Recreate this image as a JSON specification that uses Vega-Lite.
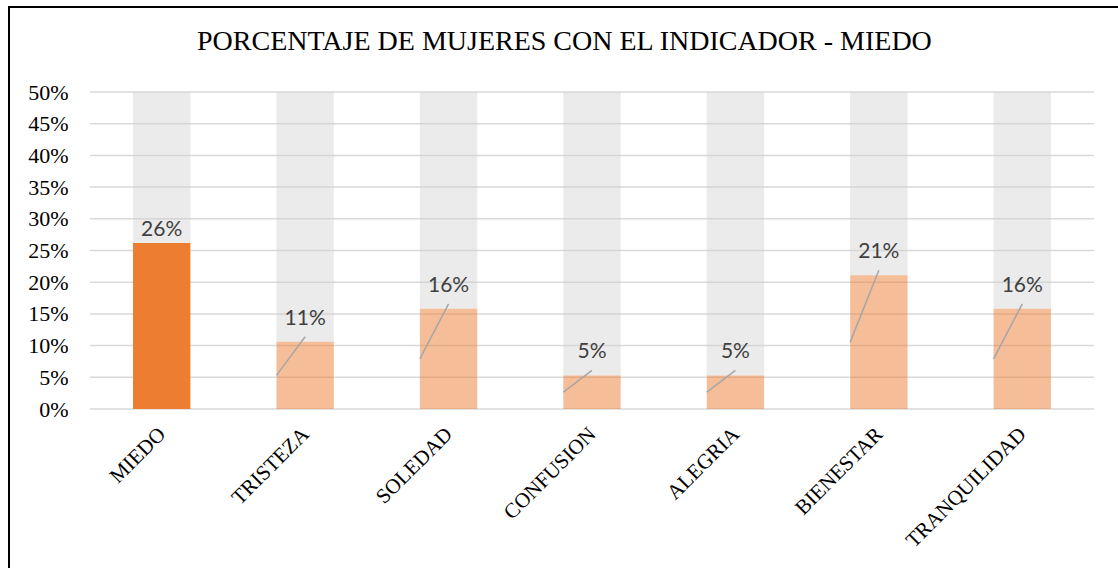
{
  "$schema": "https://vega.github.io/schema/vega-lite/v6.json",
  "width": 1125,
  "height": 563,
  "autosize": {"type": "none"},
  "padding": {"left": 9, "top": 7, "right": 0, "bottom": 0},
  "background": "#ffffff",
  "title": {
    "text": "PORCENTAJE DE MUJERES CON EL INDICADOR - MIEDO",
    "font": "Liberation Serif",
    "fontSize": 28,
    "fontWeight": "normal",
    "color": "#000000",
    "anchor": "start",
    "frame": "group",
    "orient": "top",
    "offset": -71,
    "baseline": "alphabetic",
    "dx": 188
  },
  "config": {"view": {"stroke": "#000000", "strokeWidth": 2}},
  "datasets": {
    "datos": [
      {"cat": "MIEDO", "v": 0.262},
      {"cat": "TRISTEZA", "v": 0.106},
      {"cat": "SOLEDAD", "v": 0.158},
      {"cat": "CONFUSION", "v": 0.053},
      {"cat": "ALEGRIA", "v": 0.053},
      {"cat": "BIENESTAR", "v": 0.211},
      {"cat": "TRANQUILIDAD", "v": 0.158}
    ],
    "rejilla": [
      {"g": 0}, {"g": 0.05}, {"g": 0.1}, {"g": 0.15}, {"g": 0.2}, {"g": 0.25},
      {"g": 0.3}, {"g": 0.35}, {"g": 0.4}, {"g": 0.45}, {"g": 0.5}
    ]
  },
  "resolve": {"scale": {"x": "independent"}},
  "layer": [
    {
      "data": {"name": "rejilla"},
      "mark": {"type": "rule", "color": "#D9D9D9", "strokeWidth": 1.5},
      "encoding": {
        "y": {
          "field": "g", "type": "quantitative",
          "scale": {"domain": [0, 0.5], "range": [402, 85]},
          "axis": {"title": null, "orient": "left", "offset": -81, "format": ".0%",
            "values": [0, 0.05, 0.1, 0.15, 0.2, 0.25, 0.3, 0.35, 0.4, 0.45, 0.5],
            "labelFont": "Liberation Serif", "labelFontSize": 22, "labelColor": "#000000",
            "ticks": false, "tickSize": 0, "domain": false, "grid": false, "labelPadding": 22}
        },
        "x": {"datum": 0, "type": "quantitative", "scale": {"domain": [0, 1], "range": [81, 1085]}, "axis": null},
        "x2": {"datum": 1}
      }
    },
    {
      "data": {"name": "datos"},
      "encoding": {
        "x": {
          "field": "cat", "type": "nominal", "sort": null,
          "scale": {"range": [81, 1085], "paddingInner": 0.6, "paddingOuter": 0.3},
          "axis": {"title": null, "orient": "bottom", "offset": -161, "labelAngle": -45,
            "labelFont": "Liberation Serif", "labelFontSize": 21, "labelColor": "#000000",
            "ticks": false, "tickSize": 0, "domain": false, "grid": false, "labelPadding": 14, "labelOffset": -7}
        },
        "y": {
          "field": "v", "type": "quantitative",
          "scale": {"domain": [0, 0.5], "range": [402, 85]},
          "axis": {"title": null, "orient": "left", "offset": -81, "format": ".0%",
            "values": [0, 0.05, 0.1, 0.15, 0.2, 0.25, 0.3, 0.35, 0.4, 0.45, 0.5],
            "labelFont": "Liberation Serif", "labelFontSize": 22, "labelColor": "#000000",
            "ticks": false, "tickSize": 0, "domain": false, "grid": false, "labelPadding": 22}
        }
      },
      "layer": [
        {
          "mark": {"type": "bar", "color": "#D0D0D0", "opacity": 0.42},
          "encoding": {"y2": {"datum": 0.5}}
        },
        {
          "mark": {"type": "bar", "color": "#ED7D31"},
          "encoding": {
            "y2": {"datum": 0},
            "opacity": {"condition": {"test": "datum.cat === 'MIEDO'", "value": 1}, "value": 0.5}
          }
        },
        {
          "transform": [
            {"filter": "datum.cat !== 'MIEDO'"},
            {"calculate": "datum.v / 2", "as": "mitad"}
          ],
          "mark": {"type": "rule", "color": "#A6A6A6", "strokeWidth": 1.5, "y2Offset": -5},
          "encoding": {
            "x": {"field": "cat", "type": "nominal", "sort": null, "bandPosition": 0,
              "scale": {"range": [81, 1085], "paddingInner": 0.6, "paddingOuter": 0.3}},
            "x2": {"field": "cat", "bandPosition": 0.5},
            "y": {"field": "mitad", "type": "quantitative"},
            "y2": {"field": "v"}
          }
        },
        {
          "transform": [{"filter": "datum.cat === 'MIEDO'"}],
          "mark": {"type": "text", "font": "Lato", "fontSize": 21, "color": "#404040", "baseline": "middle", "dy": -13},
          "encoding": {"text": {"field": "v", "type": "quantitative", "format": ".0%"}}
        },
        {
          "transform": [{"filter": "datum.cat !== 'MIEDO'"}],
          "mark": {"type": "text", "font": "Lato", "fontSize": 21, "color": "#404040", "baseline": "middle", "dy": -23},
          "encoding": {"text": {"field": "v", "type": "quantitative", "format": ".0%"}}
        }
      ]
    }
  ]
}
